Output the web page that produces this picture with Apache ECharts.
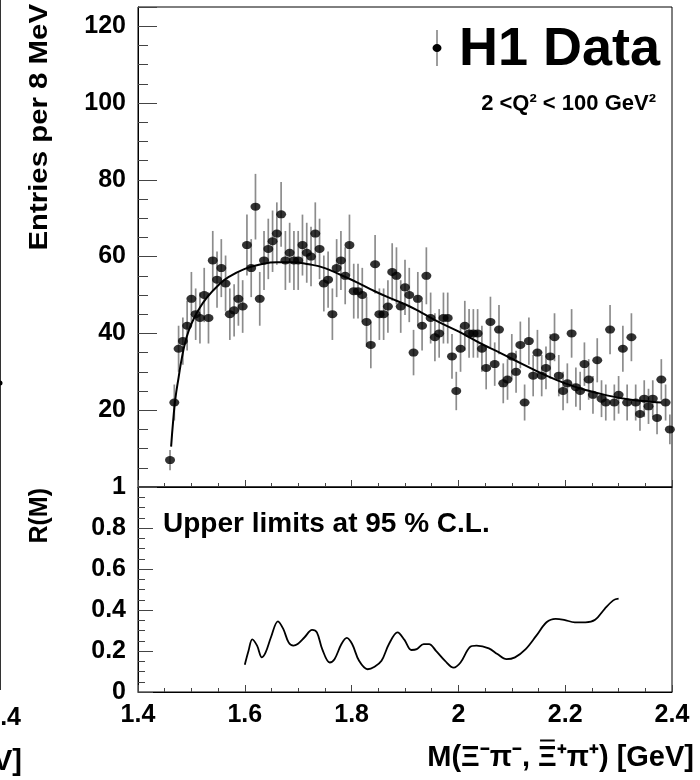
<!DOCTYPE html>
<html><head><meta charset="utf-8">
<script src="https://cdn.jsdelivr.net/npm/echarts@6/dist/echarts.min.js"></script>
<style>html,body{margin:0;padding:0;background:#fff}#c{width:700px;height:780px}</style>
</head><body><div id="c"></div>
<script>
// ---- data ----
const binLow = 1.460;      // GeV, centre of first bin
const binWidth = 0.008;    // 8 MeV bins
const counts = [7,22,36,38,42,49,45,44,50,44,59,54,57,53,45,46,49,47,63,57,
  73,49,59,62,64,66,71,59,61,59,59,63,61,60,66,62,53,54,45,57,
  59,55,63,51,51,50,43,37,58,45,45,47,56,55,47,52,50,35,49,42,
  55,44,39,40,44,44,34,25,36,42,40,40,40,36,31,43,32,41,27,28,
  34,30,37,22,38,29,35,29,31,34,39,29,25,27,40,26,25,32,28,24,
  33,23,22,41,22,24,36,22,39,22,19,23,21,23,18,28,22,15];
const fitMass = [1.462,1.466,1.470,1.476,1.482,1.490,1.500,1.515,1.530,1.550,1.570,1.600,1.630,1.660,1.690,1.720,1.750,1.780,1.810,1.840,1.870,1.900,1.930,1.960,2.000,2.040,2.080,2.120,2.160,2.200,2.240,2.280,2.320,2.360,2.380];
const fitValues = [10.5,17.5,23,28.5,33.5,38.5,42.5,46.5,49.5,52.5,54.7,56.8,58.0,58.5,58.5,58.0,57.0,55.2,53.3,51.2,49.3,47.6,45.5,43.2,40.5,37.5,34.8,32.0,29.3,27.0,25.2,23.8,22.8,22.2,22.0];
const limitMass = [1.600,1.607,1.614,1.623,1.632,1.639,1.649,1.662,1.672,1.682,1.691,1.699,1.712,1.726,1.735,1.745,1.759,1.768,1.781,1.791,1.801,1.814,1.830,1.843,1.856,1.870,1.886,1.899,1.912,1.922,1.935,1.945,1.958,1.975,1.991,2.004,2.021,2.034,2.057,2.073,2.090,2.106,2.126,2.146,2.165,2.182,2.198,2.218,2.238,2.256,2.274,2.290,2.300];
const limitValues = [0.133,0.201,0.257,0.226,0.169,0.193,0.267,0.345,0.308,0.242,0.226,0.234,0.267,0.303,0.291,0.209,0.144,0.160,0.234,0.264,0.234,0.152,0.111,0.123,0.152,0.234,0.291,0.254,0.205,0.209,0.234,0.234,0.201,0.152,0.119,0.144,0.218,0.226,0.213,0.185,0.160,0.169,0.209,0.275,0.340,0.357,0.352,0.340,0.340,0.352,0.406,0.447,0.455];

// ---- build ----
const FONT = '"Liberation Sans", Arial, Helvetica, sans-serif';
const points = counts.map((n, i) => [+(binLow + binWidth * i).toFixed(3), n]);
const errBars = counts.map((n, i) => [points[i][0], n - Math.sqrt(n), n + Math.sqrt(n)]);
const fit = fitMass.map((m, i) => [m, fitValues[i]]);
const limits = limitMass.map((m, i) => [m, limitValues[i]]);

const tickColor = '#444';
const LBL = 25;
function xAx(grid, showLabel) {
  return {
    gridIndex: grid, type: 'value', min: 1.4, max: 2.4, interval: 0.2,
    axisLine: {show: true, lineStyle: {color: '#000', width: 1}},
    axisTick: {show: true, inside: true, length: 7, lineStyle: {color: tickColor}},
    minorTick: {show: true, splitNumber: 4, length: 4, lineStyle: {color: tickColor}},
    splitLine: {show: false},
    axisLabel: {show: showLabel, fontFamily: FONT, fontWeight: 'bold', fontSize: LBL, color: '#000', margin: 11,
      formatter: v => String(+v.toFixed(1))}
  };
}
function txt(x, y, text, size, align, extra) {
  return Object.assign({type: 'text', x: x, y: y,
    style: {text: text, font: 'bold ' + size + 'px ' + FONT, fill: '#000', textAlign: align, align: align,
            textVerticalAlign: 'middle', verticalAlign: 'middle'}}, extra || {});
}
// x-axis title: Xi-bar overline placed by measuring the rendered text
const TITLE_SIZE = 29, TITLE_RIGHT = 694, TITLE_Y = 758;
const titleHead = 'M(\u039E\u207B\u03C0\u207B, ';
const titleXi = '\u039E';
const titleTail = '\u207A\u03C0\u207A) [GeV]';
const mctx = document.createElement('canvas').getContext('2d');
mctx.font = 'bold ' + TITLE_SIZE + 'px ' + FONT;
const wTail = mctx.measureText(titleTail).width;
const wXi = mctx.measureText(titleXi).width;
const xiRight = TITLE_RIGHT - wTail, xiLeft = xiRight - wXi;

const chart = echarts.init(document.getElementById('c'));
chart.setOption({
  animation: false,
  backgroundColor: '#fff',
  grid: [
    {left: 138, top: 7, width: 534, height: 480, show: true, borderColor: '#000', borderWidth: 1},
    {left: 138, top: 487, width: 534, height: 205, show: true, borderColor: '#000', borderWidth: 1}
  ],
  xAxis: [xAx(0, false), xAx(1, true)],
  yAxis: [
    {gridIndex: 0, type: 'value', min: 0, max: 125, interval: 20,
     axisLine: {show: true, lineStyle: {color: '#000'}},
     axisTick: {show: true, inside: true, length: 19, lineStyle: {color: tickColor}},
     minorTick: {show: true, splitNumber: 4, length: 10, lineStyle: {color: tickColor}},
     splitLine: {show: false},
     axisLabel: {fontFamily: FONT, fontWeight: 'bold', fontSize: LBL, color: '#000', margin: 12,
       showMaxLabel: false, formatter: v => (v === 0 || v > 120) ? '' : String(v)}},
    {gridIndex: 1, type: 'value', min: 0, max: 1, interval: 0.2,
     axisLine: {show: true, lineStyle: {color: '#000'}},
     axisTick: {show: true, inside: true, length: 15, lineStyle: {color: tickColor}},
     minorTick: {show: true, splitNumber: 4, length: 7, lineStyle: {color: tickColor}},
     splitLine: {show: false},
     axisLabel: {fontFamily: FONT, fontWeight: 'bold', fontSize: LBL, color: '#000', margin: 12,
       formatter: v => String(+v.toFixed(1))}}
  ],
  series: [
    {type: 'custom', xAxisIndex: 0, yAxisIndex: 0, data: errBars, z: 2,
     encode: {x: 0, y: [1, 2]},
     renderItem: (params, api) => {
       const x = api.value(0);
       const a = api.coord([x, api.value(1)]);
       const b = api.coord([x, api.value(2)]);
       return {type: 'line', shape: {x1: a[0], y1: a[1], x2: b[0], y2: b[1]},
               style: {stroke: '#8c8c8c', lineWidth: 1.7}};
     }},
    {type: 'line', xAxisIndex: 0, yAxisIndex: 0, data: fit, smooth: true, symbol: 'none',
     lineStyle: {color: '#000', width: 2}, z: 3},
    {type: 'scatter', xAxisIndex: 0, yAxisIndex: 0, data: points, symbol: 'circle',
     symbolSize: [10, 8], itemStyle: {color: '#000'}, z: 4},
    {type: 'line', xAxisIndex: 1, yAxisIndex: 1, data: limits, smooth: 0.35, symbol: 'none',
     lineStyle: {color: '#000', width: 1.8}}
  ],
  graphic: [
    txt(40, 4, 'Entries per 8 MeV', 26, 'right', {rotation: Math.PI / 2, scaleX: 1.13}),
    txt(40, 488, 'R(M)', 25, 'right', {rotation: Math.PI / 2}),
    {type: 'line', shape: {x1: 437, y1: 30, x2: 437, y2: 66}, style: {stroke: '#8c8c8c', lineWidth: 1.7}},
    {type: 'ellipse', shape: {cx: 437, cy: 48, rx: 4.5, ry: 4}, style: {fill: '#000'}},
    txt(660, 50, 'H1 Data', 54, 'right'),
    txt(656, 104, '2 <Q\u00B2 < 100 GeV\u00B2', 22, 'right'),
    txt(163, 524, 'Upper limits at 95 % C.L.', 28, 'left'),
    txt(TITLE_RIGHT, TITLE_Y, titleHead + titleXi + titleTail, TITLE_SIZE, 'right'),
    {type: 'line', shape: {x1: xiLeft + 2, y1: TITLE_Y - 17.5, x2: xiRight - 2, y2: TITLE_Y - 17.5},
     style: {stroke: '#000', lineWidth: 2}},
    {type: 'line', shape: {x1: 0.5, y1: 0, x2: 0.5, y2: 690}, style: {stroke: '#333', lineWidth: 1}},
    {type: 'circle', shape: {cx: 0, cy: 383, r: 2.5}, style: {fill: '#000'}},
    txt(21, 718, '1.4', LBL, 'right'),
    txt(22, 762, 'eV]', 29, 'right')
  ]
});
</script></body></html>
